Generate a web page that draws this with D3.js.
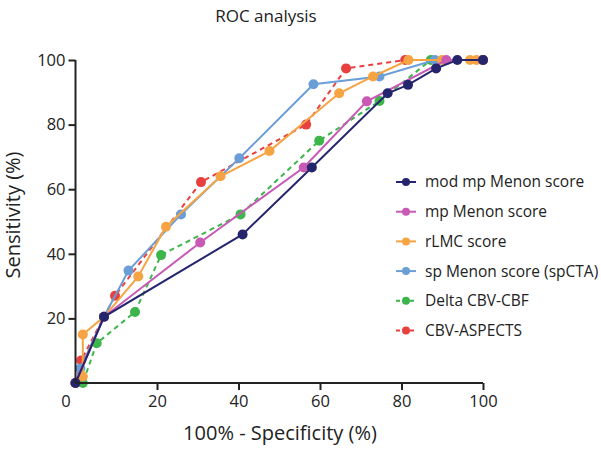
<!DOCTYPE html>
<html><head><meta charset="utf-8">
<script src="https://cdn.jsdelivr.net/npm/d3@7"></script>
<style>body{margin:0;background:#fff;} text{font-family:"Open Sans",sans-serif;fill:#222;}</style>
</head><body>
<svg id="chart" width="601" height="456"></svg>
<script>
const title = "ROC analysis";
const xLabel = "100% - Specificity (%)";
const yLabel = "Sensitivity (%)";
const xTicks = [0, 20, 40, 60, 80, 100];
const yTicks = [20, 40, 60, 80, 100];
const seriesNames = ["mod mp Menon score", "mp Menon score", "rLMC score", "sp Menon score (spCTA)", "Delta CBV-CBF", "CBV-ASPECTS"];
const seriesColors = ["#25256e", "#c85ab6", "#f6a443", "#6b9ed6", "#3cb54a", "#e8403f"];
const seriesDashed = [false, false, false, false, true, true];
const modMpMenon = [[0,0],[7,20.5],[41,46],[58,66.7],[76.6,89.7],[81.6,92.3],[88.5,97.4],[93.7,100],[100,100]];
const mpMenon = [[0,0],[7,20.5],[30.6,43.5],[56,66.7],[71.5,87.2],[91,100],[100,100]];
const rLMC = [[0,0],[1.8,2],[1.8,15],[7,20.5],[15.4,33],[22.2,48.4],[35.6,64],[47.6,71.8],[64.7,89.7],[73,94.9],[81.7,100],[89.9,100],[96.8,100],[98.4,100],[100,100]];
const spMenon = [[0,0],[1.2,4.5],[7,20.5],[13,34.8],[25.9,52.2],[40.2,69.6],[58.4,92.5],[74.6,94.9],[88.2,100],[100,100]];
const deltaCBV = [[0,0],[1.8,0],[5.2,12.3],[14.6,22],[21,39.6],[40.5,52.2],[59.8,75],[74.6,87.3],[87.2,100],[100,100]];
const cbvAspects = [[0,0],[1.4,7],[9.7,27],[30.8,62.2],[56.6,80],[66.4,97.4],[80.9,100],[100,100]];
const seriesData = [modMpMenon, mpMenon, rLMC, spMenon, deltaCBV, cbvAspects];

const svg = d3.select("#chart");
const x = d3.scaleLinear().domain([0,100]).range([75.5,483]);
const y = d3.scaleLinear().domain([0,100]).range([383,60]);

// title
svg.append("text").attr("x",266).attr("y",22).attr("text-anchor","middle")
  .style("font-size","17px").text(title);

// series (reverse order so first is on top)
const line = d3.line().x(d=>x(d[0])).y(d=>y(d[1]));
for (let i = seriesData.length-1; i >= 0; i--) {
  const g = svg.append("g");
  g.append("path").datum(seriesData[i]).attr("d", line)
    .attr("fill","none").attr("stroke",seriesColors[i]).attr("stroke-width",2)
    .attr("stroke-dasharray", seriesDashed[i] ? "5,4" : null);
  g.selectAll("circle").data(seriesData[i]).join("circle")
    .attr("cx",d=>x(d[0])).attr("cy",d=>y(d[1])).attr("r",5)
    .attr("fill",seriesColors[i]);
}

// axes
const xAxis = svg.append("g").attr("transform","translate(0,383)")
  .call(d3.axisBottom(x).tickValues(xTicks).tickSize(7).tickPadding(5).tickSizeOuter(0));
const yAxis = svg.append("g").attr("transform","translate(75.5,0)")
  .call(d3.axisLeft(y).tickValues(yTicks).tickSize(7).tickPadding(3).tickSizeOuter(0));
[xAxis,yAxis].forEach(a=>{
  a.select(".domain").attr("stroke","#222").attr("stroke-width",2);
  a.selectAll(".tick line").attr("stroke","#222").attr("stroke-width",2);
  a.selectAll(".tick text").style("font-size","16.5px").style("font-family","'Open Sans',sans-serif").attr("fill","#222");
});
xAxis.select(".domain").attr("d","M75.5,0H483");
yAxis.select(".domain").attr("d","M0,383V60");
xAxis.selectAll(".tick").filter(d=>d===0).select("line").remove();
xAxis.selectAll(".tick").filter(d=>d===0).select("text").attr("dx",-10);

// axis labels
svg.append("text").attr("x",280).attr("y",440).attr("text-anchor","middle")
  .style("font-size","20px").text(xLabel);
svg.append("text").attr("transform","translate(20,215) rotate(-90)").attr("text-anchor","middle")
  .style("font-size","20px").text(yLabel);

// legend
const leg = svg.append("g");
seriesNames.forEach((name,i)=>{
  const yy = 182 + i*29.7;
  leg.append("line").attr("x1",396).attr("x2",416).attr("y1",yy).attr("y2",yy)
    .attr("stroke",seriesColors[i]).attr("stroke-width",2)
    .attr("stroke-dasharray", seriesDashed[i] ? "4,3" : null);
  leg.append("circle").attr("cx",406).attr("cy",yy).attr("r",4).attr("fill",seriesColors[i]);
  leg.append("text").attr("x",425).attr("y",yy).attr("dy","0.35em")
    .style("font-size","15.5px").text(name);
});
</script>
</body></html>
